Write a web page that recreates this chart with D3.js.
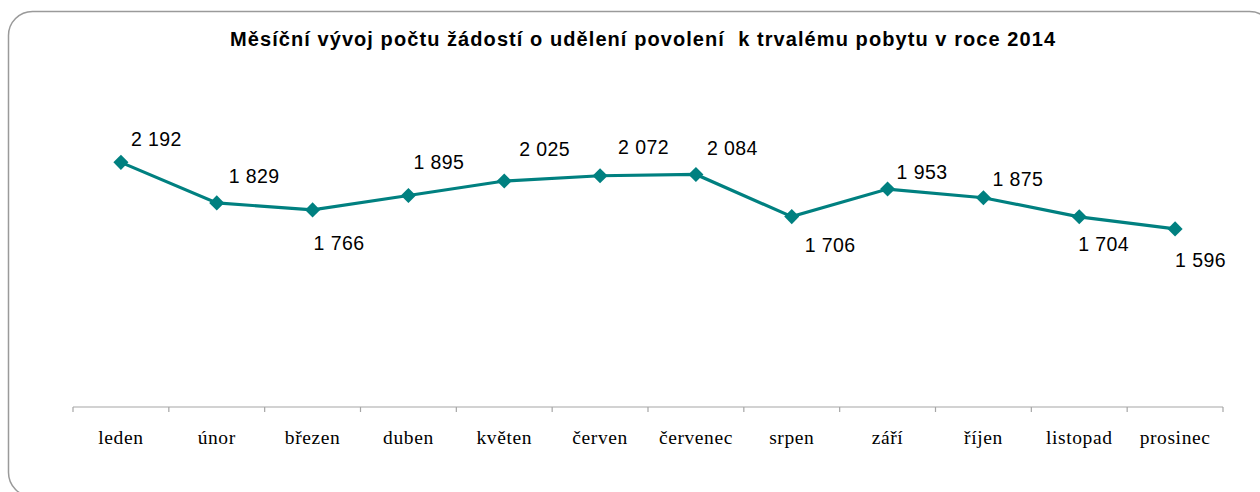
<!DOCTYPE html>
<html>
<head>
<meta charset="utf-8">
<script src="https://cdn.jsdelivr.net/npm/d3@7"></script>
<style>
  html, body { margin: 0; padding: 0; background: #fff; }
  svg { display: block; }
</style>
</head>
<body>
<div id="chart"></div>
<script>
// data
const titleText = "Měsíční vývoj počtu žádostí o udělení povolení  k trvalému pobytu v roce 2014";
const months = ["leden", "únor", "březen", "duben", "květen", "červen",
                "červenec", "srpen", "září", "říjen", "listopad", "prosinec"];
const requests = [2192, 1829, 1766, 1895, 2025, 2072, 2084, 1706, 1953, 1875, 1704, 1596];

// label nudges relative to each point [dx, dy] (manually placed in the original)
const labelNudge = [[10, -16], [12, -20], [1, 40], [5, -27], [15, -25], [18, -22],
                    [11, -19], [13, 35], [9, -10], [9, -12], [-1, 34], [0, 38]];

const width = 1260, height = 492;
const fmt = d => d3.format(",")(d).replace(",", " ");

const svg = d3.select("#chart").append("svg")
    .attr("width", width)
    .attr("height", height);

// chart frame
svg.append("rect")
    .attr("x", 8.5).attr("y", 11.5)
    .attr("width", 1265).attr("height", 485)
    .attr("rx", 24).attr("ry", 24)
    .attr("fill", "#fff")
    .attr("stroke", "#9a9a9a")
    .attr("stroke-width", 1.5);

svg.append("text")
    .attr("x", 230).attr("y", 46)
    .attr("textLength", 825)
    .attr("lengthAdjust", "spacing")
    .style("white-space", "pre")
    .style("font-family", "'Liberation Sans', Arial, sans-serif")
    .style("font-weight", "bold")
    .style("font-size", "20px")
    .text(titleText);

let x = d3.scaleBand()
    .domain(months)
    .range([73, 1223]);

let y = d3.scaleLinear()
    .domain([0, 2500])
    .range([407, 128]);

// x axis baseline + category separators
svg.append("line")
    .attr("x1", 73).attr("x2", 1223)
    .attr("y1", 407).attr("y2", 407)
    .attr("stroke", "#a6a6a6").attr("stroke-width", 1.2);

svg.selectAll(".sep")
    .data(d3.range(months.length + 1))
    .enter().append("line")
    .attr("class", "sep")
    .attr("x1", i => 73 + i * x.step()).attr("x2", i => 73 + i * x.step())
    .attr("y1", 407).attr("y2", 412)
    .attr("stroke", "#a6a6a6").attr("stroke-width", 1.2);

svg.selectAll(".month")
    .data(months)
    .enter().append("text")
    .attr("class", "month")
    .attr("x", d => x(d) + x.bandwidth() / 2)
    .attr("y", 444)
    .attr("text-anchor", "middle")
    .style("font-family", "'Liberation Serif', 'Times New Roman', serif")
    .style("font-size", "19.5px")
    .style("letter-spacing", "0.6px")
    .text(d => d);

// series line
let line = d3.line()
    .x((d, i) => x(months[i]) + x.bandwidth() / 2)
    .y(d => y(d));

svg.append("path")
    .datum(requests)
    .attr("d", line)
    .attr("fill", "none")
    .attr("stroke", "#008080")
    .attr("stroke-width", 3.2);

svg.selectAll(".marker")
    .data(requests)
    .enter().append("path")
    .attr("class", "marker")
    .attr("d", d3.symbol().type(d3.symbolDiamond2).size(145))
    .attr("transform", (d, i) => "translate(" + (x(months[i]) + x.bandwidth() / 2) + "," + y(d) + ")")
    .attr("fill", "#008080");

svg.selectAll(".val")
    .data(requests)
    .enter().append("text")
    .attr("class", "val")
    .attr("x", (d, i) => x(months[i]) + x.bandwidth() / 2 + labelNudge[i][0])
    .attr("y", (d, i) => y(d) + labelNudge[i][1])
    .style("font-family", "'Liberation Sans', Arial, sans-serif")
    .style("font-size", "19.5px")
    .style("letter-spacing", "0.4px")
    .text(fmt);
</script>
</body>
</html>
